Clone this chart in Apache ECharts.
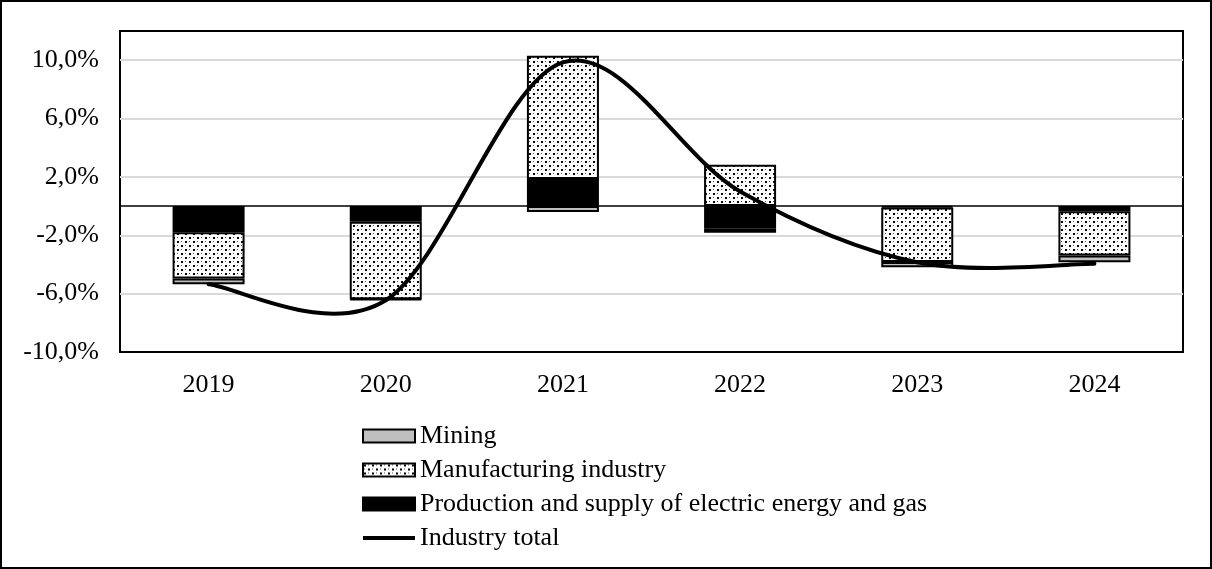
<!DOCTYPE html>
<html>
<head>
<meta charset="utf-8">
<script src="https://cdn.jsdelivr.net/npm/echarts@6/dist/echarts.min.js"></script>
<style>
  html, body { margin: 0; padding: 0; background: #fff; }
  #chart { width: 1212px; height: 569px; }
</style>
</head>
<body>
<div id="chart"></div>
<script>
// Contributions to industrial growth by sector, percentage points
const years = ['2019', '2020', '2021', '2022', '2023', '2024'];
const mining = [-0.40, -0.05, -0.40, -0.27, -0.37, -0.47];
const manufacturing = [-3.16, -5.30, 8.44, 2.83, -3.73, -3.03];
const electricity = [-1.80, -1.08, 1.86, -1.56, -0.10, -0.35];
const industryTotal = [-5.36, -6.45, 9.85, 1.00, -3.85, -3.95];
const yTicks = [-10, -6, -2, 2, 6, 10];

const names = {
  mining: 'Mining',
  manufacturing: 'Manufacturing industry',
  electricity: 'Production and supply of electric energy and gas',
  total: 'Industry total'
};

// Dotted fill tile for the manufacturing bars
function dotTile() {
  const c = document.createElement('canvas');
  c.width = 8; c.height = 8;
  const g = c.getContext('2d');
  g.fillStyle = '#fff';
  g.fillRect(0, 0, 8, 8);
  g.fillStyle = '#000';
  g.fillRect(1, 1, 2, 2);
  g.fillRect(5, 5, 2, 2);
  g.fillStyle = '#555';
  g.fillRect(5, 1, 1, 1);
  g.fillRect(1, 5, 1, 1);
  return c;
}

// Catmull-Rom style smoothed segment between point i and i+1 of the total line
function renderTotalSegment(params, api) {
  const i = params.dataIndex;
  const n = industryTotal.length;
  if (i >= n - 1) return null;
  const pt = j => api.coord([j, industryTotal[Math.max(0, Math.min(n - 1, j))]]);
  const p0 = pt(i - 1), p1 = pt(i), p2 = pt(i + 1), p3 = pt(i + 2);
  const a = i === 0 ? p1 : p0;
  const d = i + 2 > n - 1 ? p2 : p3;
  return {
    type: 'bezierCurve',
    shape: {
      x1: p1[0], y1: p1[1],
      x2: p2[0], y2: p2[1],
      cpx1: p1[0] + (p2[0] - a[0]) / 6,
      cpy1: p1[1] + (p2[1] - a[1]) / 6,
      cpx2: p2[0] - (d[0] - p1[0]) / 6,
      cpy2: p2[1] - (d[1] - p1[1]) / 6
    },
    style: { fill: null, stroke: '#000', lineWidth: 4, lineCap: 'round' }
  };
}

const font = 'Liberation Serif';
const barBorder = { borderColor: '#000', borderWidth: 2 };
// thin horizontal stroke centred in the legend icon box
const lineIcon = 'path://M0,0L0.01,0Z M0,4.5h52v4h-52Z M52,13L52.01,13Z';

const chart = echarts.init(document.getElementById('chart'), null, { renderer: 'canvas' });
chart.setOption({
  animation: false,
  backgroundColor: '#fff',
  textStyle: { fontFamily: font, color: '#000' },
  graphic: [{
    type: 'rect',
    shape: { x: 1, y: 1, width: 1210, height: 567 },
    style: { fill: null, stroke: '#000', lineWidth: 2 },
    silent: true
  }],
  grid: {
    left: 120, top: 31, width: 1063, height: 321,
    show: true, borderColor: '#000', borderWidth: 2, backgroundColor: 'transparent'
  },
  legend: {
    orient: 'vertical',
    left: 357,
    top: 418,
    itemWidth: 52,
    itemHeight: 13,
    itemGap: 8,
    textStyle: { fontFamily: font, fontSize: 26, color: '#000' },
    data: [
      { name: names.mining, icon: 'rect' },
      { name: names.manufacturing, icon: 'rect' },
      { name: names.electricity, icon: 'rect' },
      { name: names.total, icon: lineIcon, itemStyle: { color: '#000', borderWidth: 0 } }
    ]
  },
  xAxis: {
    type: 'category',
    data: years,
    axisLine: { show: false, onZero: false },
    axisTick: { show: false },
    axisLabel: { fontFamily: font, fontSize: 26, color: '#000', margin: 20 },
    splitLine: { show: false }
  },
  yAxis: {
    type: 'value',
    min: -10,
    max: 12,
    interval: 4,
    axisLine: { show: false },
    axisTick: { show: false },
    axisLabel: {
      fontFamily: font, fontSize: 26, color: '#000', margin: 21,
      showMaxLabel: false,
      formatter: v => (yTicks.includes(v) ? v.toFixed(1).replace('.', ',') + '%' : '')
    },
    splitLine: {
      show: true, showMinLine: false, showMaxLine: false,
      lineStyle: { color: '#d9d9d9', width: 2 }
    }
  },
  series: [
    {
      name: names.electricity,
      type: 'bar',
      stack: 'sector',
      barWidth: 72,
      data: electricity,
      itemStyle: Object.assign({ color: '#000' }, barBorder),
      markLine: {
        silent: true,
        symbol: 'none',
        label: { show: false },
        lineStyle: { color: '#000', width: 1.5, type: 'solid' },
        data: [{ yAxis: 0 }]
      }
    },
    {
      name: names.manufacturing,
      type: 'bar',
      stack: 'sector',
      barWidth: 72,
      data: manufacturing,
      itemStyle: Object.assign({ color: { image: dotTile(), repeat: 'repeat' } }, barBorder)
    },
    {
      name: names.mining,
      type: 'bar',
      stack: 'sector',
      barWidth: 72,
      data: mining,
      itemStyle: Object.assign({ color: '#bfbfbf' }, barBorder)
    },
    {
      name: names.total,
      type: 'custom',
      data: industryTotal.map((v, i) => [i, v]),
      encode: { x: 0, y: 1 },
      renderItem: renderTotalSegment,
      z: 5,
      silent: true,
      itemStyle: { color: '#000' }
    }
  ]
});
</script>
</body>
</html>
